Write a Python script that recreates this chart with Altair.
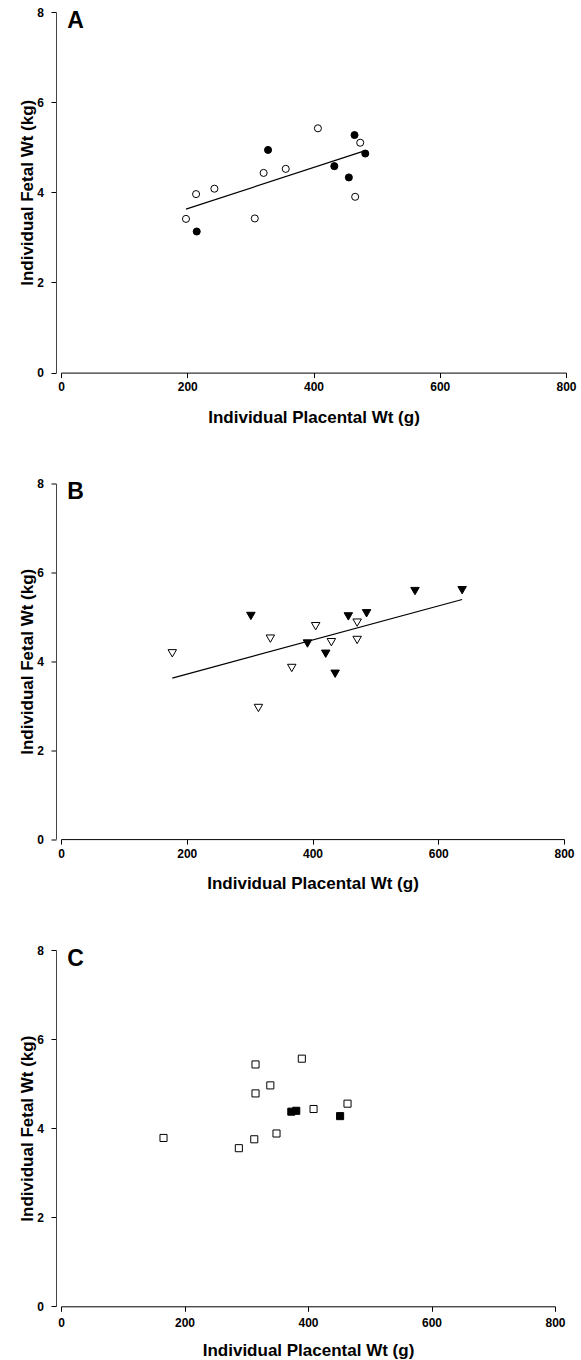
import altair as alt
import pandas as pd

FONT = "Liberation Sans"
X_TICKS = [0, 200, 400, 600, 800]
Y_TICKS = [0, 2, 4, 6, 8]
X_TITLE = "Individual Placental Wt (g)"
Y_TITLE = "Individual Fetal Wt (kg)"

# Panel A (circles)
a_open_x = [198, 214, 243, 307, 321, 356, 407, 474, 466]
a_open_y = [3.41, 3.96, 4.08, 3.42, 4.43, 4.52, 5.42, 5.10, 3.90]
a_fill_x = [215, 328, 433, 456, 465, 482]
a_fill_y = [3.13, 4.94, 4.58, 4.33, 5.27, 4.86]

# Panel B (down triangles)
b_open_x = [177, 333, 405, 367, 430, 471, 471, 314]
b_open_y = [4.18, 4.51, 4.79, 3.85, 4.43, 4.87, 4.48, 2.95]
b_fill_x = [302, 392, 421, 436, 457, 486, 563, 638]
b_fill_y = [5.02, 4.40, 4.17, 3.72, 5.01, 5.08, 5.58, 5.60]

# Panel C (squares)
c_open_x = [166, 288, 313, 315, 315, 339, 349, 390, 409, 464]
c_open_y = [3.78, 3.55, 3.75, 4.78, 5.43, 4.96, 3.88, 5.56, 4.43, 4.55]
c_fill_x = [373, 381, 452]
c_fill_y = [4.37, 4.39, 4.27]


def make_df(ox, oy, fx, fy):
    return pd.DataFrame({
        "pw": ox + fx,
        "fw": oy + fy,
        "group": ["open"] * len(ox) + ["filled"] * len(fx),
    })


def panel(df, shape, size, letter, w, h, fit, lab_pad):
    xenc = alt.X(
        "pw:Q",
        scale=alt.Scale(domain=[0, 800], nice=False, zero=False),
        axis=alt.Axis(
            values=X_TICKS, title=X_TITLE, format="d", grid=False,
            labelFlush=False, labelFont=FONT, labelFontWeight="bold",
            labelFontSize=12, labelColor="black", labelPadding=lab_pad,
            tickSize=5, tickColor="black", domainColor="black",
            titleFont=FONT, titleFontWeight="bold", titleFontSize=17,
            titleColor="black", titleBaseline="alphabetic",
            titleX=w / 2, titleY=49.5,
        ),
    )
    yenc = alt.Y(
        "fw:Q",
        scale=alt.Scale(domain=[0, 8], nice=False),
        axis=alt.Axis(
            values=Y_TICKS, title=Y_TITLE, format="d", grid=False,
            labelFlush=False, labelFont=FONT, labelFontWeight="bold",
            labelFontSize=12, labelColor="black", labelPadding=7.5,
            tickSize=5, tickColor="black", domainColor="#444444", offset=5,
            titleFont=FONT, titleFontWeight="bold", titleFontSize=17,
            titleColor="black", titleBaseline="alphabetic",
            titleX=-24, titleY=h / 2,
        ),
    )
    layers = []
    if fit:
        line = alt.Chart(df).transform_regression("pw", "fw").mark_line(
            color="black", strokeWidth=1.2
        ).encode(x=xenc, y=yenc)
        layers.append(line)
    pts = alt.Chart(df).mark_point(
        shape=shape, size=size, filled=True, stroke="black",
        strokeWidth=1, opacity=1
    ).encode(
        x=xenc, y=yenc,
        fill=alt.Fill("group:N",
                      scale=alt.Scale(domain=["open", "filled"],
                                      range=["white", "black"]),
                      legend=None),
    )
    layers.append(pts)
    lab = alt.Chart(pd.DataFrame({"t": [letter]})).mark_text(
        font=FONT, fontWeight="bold", fontSize=23, align="left",
        baseline="alphabetic", color="black"
    ).encode(x=alt.value(6.3), y=alt.value(15.8), text="t:N")
    layers.append(lab)
    return alt.layer(*layers).properties(width=w, height=h)


pa = panel(make_df(a_open_x, a_open_y, a_fill_x, a_fill_y), "circle", 50, "A", 505, 360.6, True, 4)
pb = panel(make_df(b_open_x, b_open_y, b_fill_x, b_fill_y), "triangle-down", 72, "B", 503, 355.6, True, 4)
pc = panel(make_df(c_open_x, c_open_y, c_fill_x, c_fill_y), "square", 50, "C", 494, 356.3, False, 6)

chart = alt.vconcat(pa, pb, pc, spacing=110.5, bounds="flush").properties(
    padding={"left": 18, "top": 6, "right": 2, "bottom": 2},
    background="white",
).configure_view(stroke=None)

chart.save("out.html", embed_options={"renderer": "svg", "actions": False})
